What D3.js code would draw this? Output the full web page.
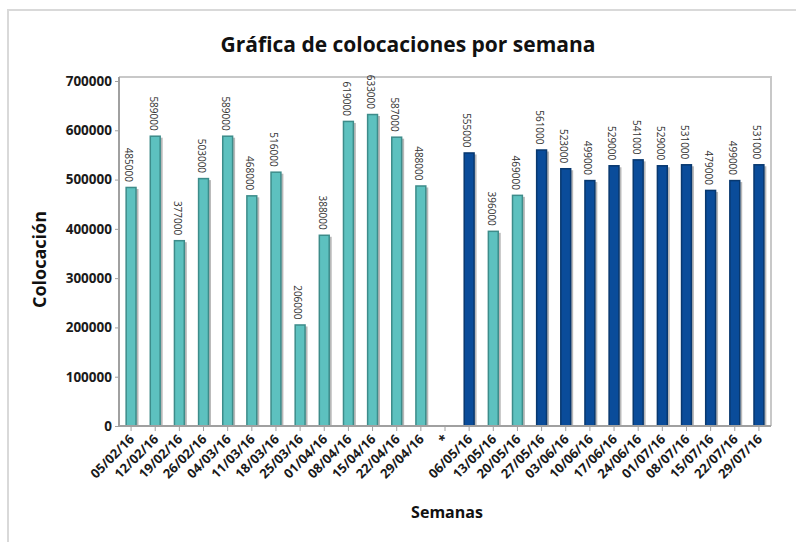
<!DOCTYPE html>
<html>
<head>
<meta charset="utf-8">
<script src="https://cdn.jsdelivr.net/npm/d3@7"></script>
<style>
  body { margin: 0; background: #fff; }
  text { font-family: "Open Sans", "Noto Sans", sans-serif; }
</style>
</head>
<body>
<script>
// semanas (el "*" es un hueco sin dato)
const semanas = ['05/02/16', '12/02/16', '19/02/16', '26/02/16', '04/03/16', '11/03/16', '18/03/16',
    '25/03/16', '01/04/16', '08/04/16', '15/04/16', '22/04/16', '29/04/16', '*',
    '06/05/16', '13/05/16', '20/05/16', '27/05/16', '03/06/16', '10/06/16', '17/06/16',
    '24/06/16', '01/07/16', '08/07/16', '15/07/16', '22/07/16', '29/07/16']
const colocacion = [485000, 589000, 377000, 503000, 589000, 468000, 516000,
    206000, 388000, 619000, 633000, 587000, 488000, null,
    555000, 396000, 469000, 561000, 523000, 499000, 529000,
    541000, 529000, 531000, 479000, 499000, 531000]
// grupo de cada barra: 'a' = verde, 'b' = azul
const grupo = ['a', 'a', 'a', 'a', 'a', 'a', 'a', 'a', 'a', 'a', 'a', 'a', 'a', null,
    'b', 'a', 'a', 'b', 'b', 'b', 'b', 'b', 'b', 'b', 'b', 'b', 'b']
const yTicks = [0, 100000, 200000, 300000, 400000, 500000, 600000, 700000]

const W = 796, H = 542
const plot = { left: 119, right: 771, top: 77, bottom: 426 }

const svg = d3.select('body').append('svg')
    .attr('width', W)
    .attr('height', H)

// marco exterior
svg.append('rect')
    .attr('x', 8).attr('y', 10)
    .attr('width', W + 20).attr('height', H + 20)
    .attr('fill', 'none')
    .attr('stroke', '#d9d9d9')
    .attr('stroke-width', 2)

const data = semanas.map((s, i) => ({ semana: s, valor: colocacion[i], grupo: grupo[i] }))

const x = d3.scaleBand()
    .domain(semanas)
    .range([plot.left, plot.right])
    .paddingInner(0.55)
    .paddingOuter(0.275)

const y = d3.scaleLinear()
    .domain([0, 700000])
    .range([plot.bottom, plot.top + 4])

const color = d3.scaleOrdinal()
    .domain(['a', 'b'])
    .range(['#5dc1bf', '#0a4c9a'])
const borde = d3.scaleOrdinal()
    .domain(['a', 'b'])
    .range(['#3d8c8a', '#08386f'])

// marco del gráfico (arriba y derecha)
svg.append('path')
    .attr('d', `M${plot.left},${plot.top}H${plot.right}V${plot.bottom}`)
    .attr('fill', 'none')
    .attr('stroke', '#c8c8c8')
    .attr('stroke-width', 2)

// barras
const conDato = data.filter(d => d.valor != null)

svg.append('g')
    .selectAll('rect')
    .data(conDato)
    .enter().append('rect')
    .attr('x', d => x(d.semana) + 2)
    .attr('y', d => y(d.valor) + 2)
    .attr('width', x.bandwidth())
    .attr('height', d => y(0) - y(d.valor) - 2)
    .attr('fill', '#b8b8b8')

svg.append('g')
    .selectAll('rect')
    .data(conDato)
    .enter().append('rect')
    .attr('x', d => x(d.semana) + 0.5)
    .attr('y', d => y(d.valor) + 0.5)
    .attr('width', x.bandwidth() - 1)
    .attr('height', d => y(0) - y(d.valor) - 0.5)
    .attr('fill', d => color(d.grupo))
    .attr('stroke', d => borde(d.grupo))
    .attr('stroke-width', 1.5)

// etiquetas de valor
svg.append('g')
    .selectAll('text')
    .data(conDato)
    .enter().append('text')
    .attr('transform', d => 'translate(' + (x(d.semana) + x.bandwidth() / 2 - 3) + ',' + (y(d.valor) - 5) + ') rotate(90)')
    .attr('text-anchor', 'end')
    .attr('dominant-baseline', 'middle')
    .attr('font-size', 10)
    .attr('fill', '#333')
    .text(d => d.valor)

// eje y
const yAxis = svg.append('g')
    .attr('transform', 'translate(' + plot.left + ',0)')
    .call(d3.axisLeft(y).tickValues(yTicks).tickFormat(d3.format('d')).tickSize(4).tickPadding(3).tickSizeOuter(0))
yAxis.select('.domain').attr('stroke', '#a0a0a0').attr('stroke-width', 2)
    .attr('d', `M0,${plot.top}V${plot.bottom}`)
yAxis.selectAll('.tick line').attr('stroke', '#a0a0a0')
yAxis.selectAll('.tick text')
    .attr('font-size', 13.5)
    .attr('font-weight', 'bold')
    .attr('fill', '#1a1a1a')
    .style('font-family', '"Open Sans", sans-serif')

// eje x
const xAxis = svg.append('g')
    .attr('transform', 'translate(0,' + plot.bottom + ')')
    .call(d3.axisBottom(x).tickSize(5).tickSizeOuter(0))
xAxis.select('.domain').attr('stroke', '#a0a0a0').attr('stroke-width', 2)
    .attr('d', `M${plot.left},0H${plot.right}`)
xAxis.selectAll('.tick line').attr('stroke', '#a0a0a0')
xAxis.selectAll('.tick text')
    .attr('font-size', 13)
    .attr('font-weight', 'bold')
    .attr('fill', '#1a1a1a')
    .attr('text-anchor', 'end')
    .attr('dy', null)
    .attr('y', 0)
    .attr('transform', 'translate(4,14) rotate(-45)')
    .style('font-family', '"Open Sans", sans-serif')

// títulos
svg.append('text')
    .attr('x', 408).attr('y', 52)
    .attr('text-anchor', 'middle')
    .attr('font-size', 21)
    .attr('font-weight', 'bold')
    .attr('fill', '#111')
    .text('Gráfica de colocaciones por semana')

svg.append('text')
    .attr('transform', 'translate(46,' + ((plot.top + plot.bottom) / 2 + 8) + ') rotate(-90)')
    .attr('text-anchor', 'middle')
    .attr('font-size', 18)
    .attr('font-weight', 'bold')
    .attr('fill', '#111')
    .text('Colocación')

svg.append('text')
    .attr('x', 447).attr('y', 518)
    .attr('text-anchor', 'middle')
    .attr('font-size', 16)
    .attr('font-weight', 'bold')
    .attr('fill', '#111')
    .text('Semanas')
</script>
</body>
</html>
